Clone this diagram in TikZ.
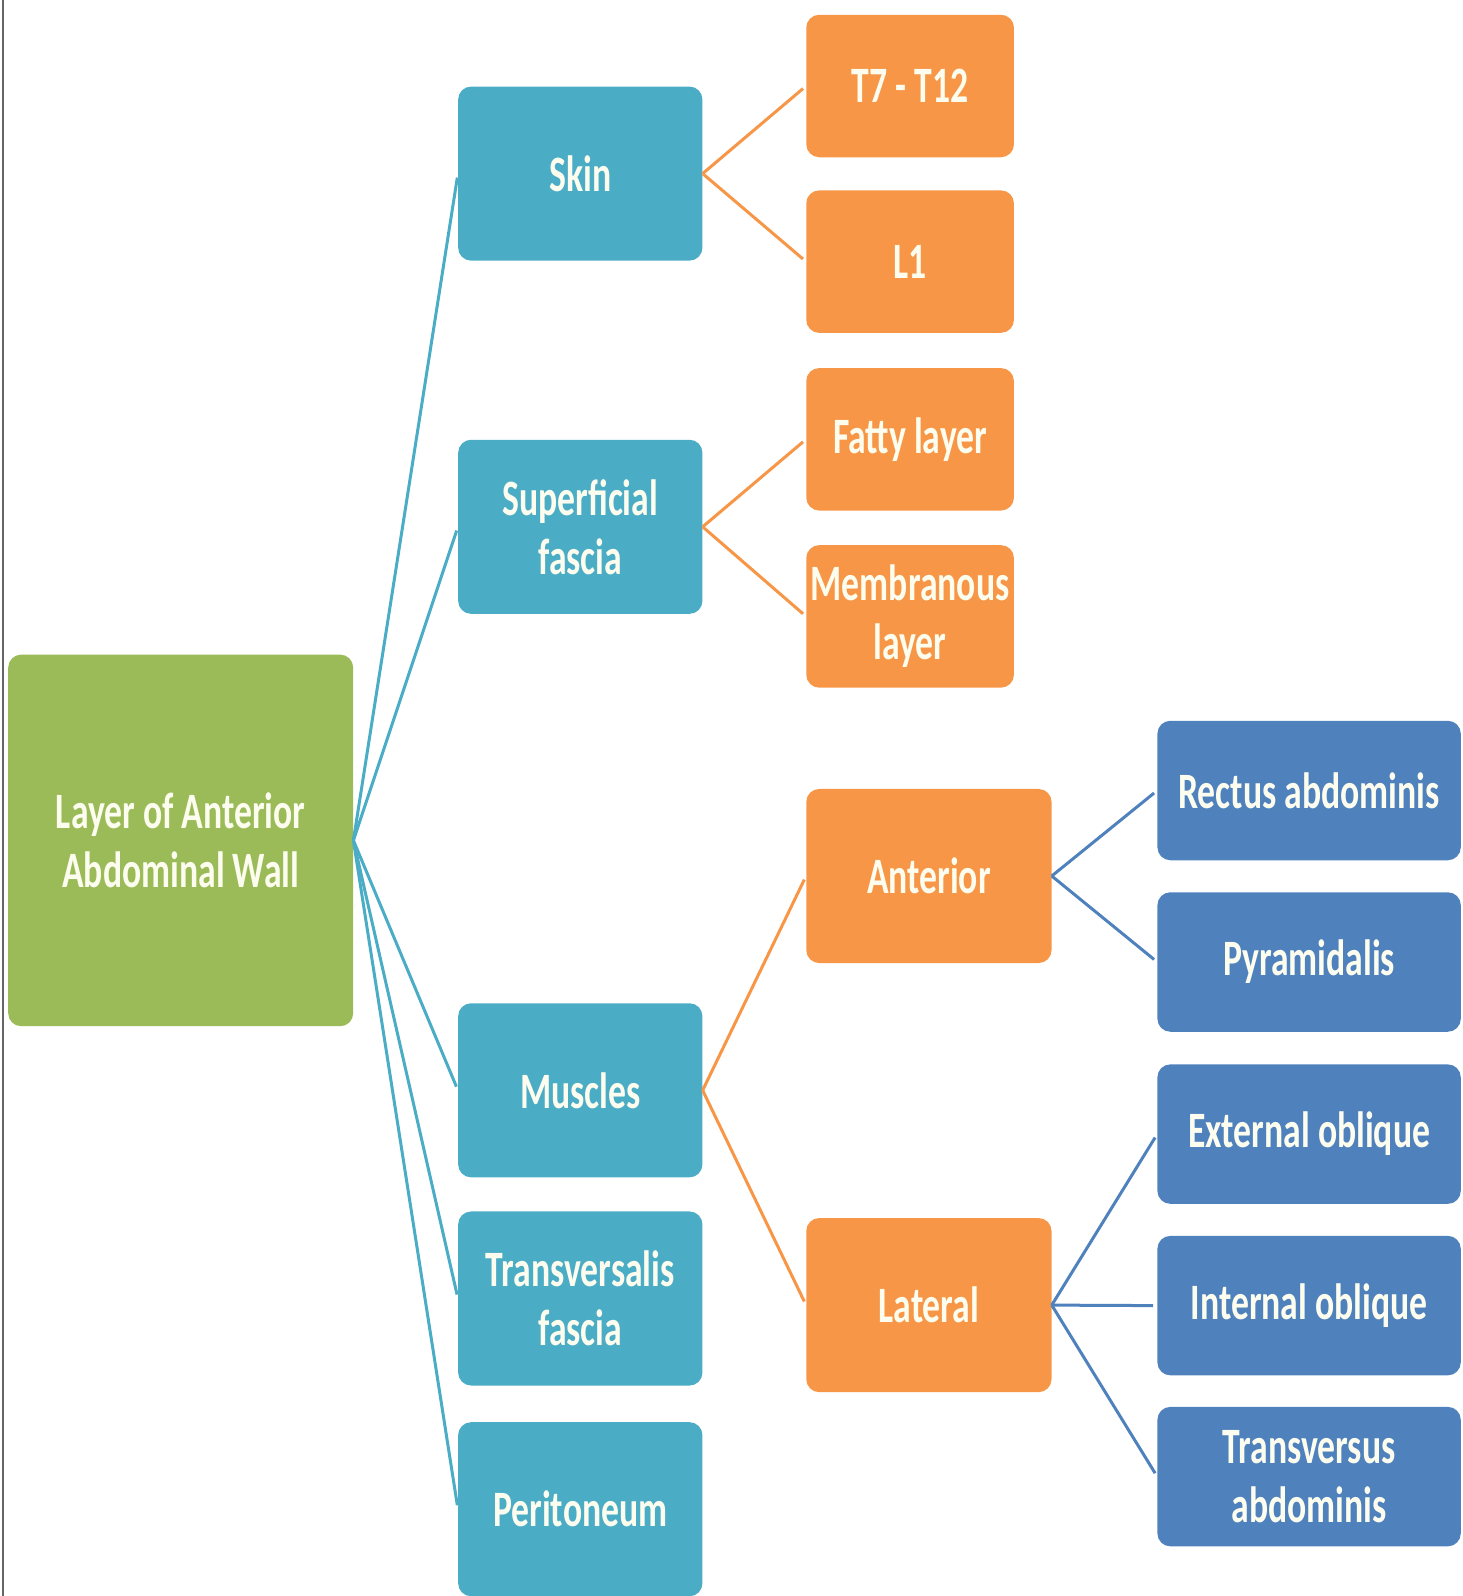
\documentclass[tikz,border=0pt]{standalone}
\usepackage{fontspec}
\setmainfont{Carlito}[FakeStretch=0.70]
\usepackage{xcolor}
\definecolor{root area}{HTML}{9BBB59}
\definecolor{layer area}{HTML}{4BACC6}
\definecolor{part area}{HTML}{F79646}
\definecolor{muscle area}{HTML}{4F81BD}
\definecolor{box text}{HTML}{FCFDEE}
\colorlet{page edge}{black!60}
\tikzset{box/.style={rounded corners=13pt, inner sep=0pt, align=center, text=box text,
        font=\fontsize{51}{59}\selectfont\bfseries},
    rootbox/.style={box, fill=root area, minimum width=345pt, minimum height=371.6pt},
    layerbox/.style={box, fill=layer area, minimum width=244.3pt, minimum height=174.1pt},
    partbox/.style={box, fill=part area, minimum width=207.7pt, minimum height=142.5pt},
    sidebox/.style={box, fill=part area, minimum width=245.3pt, minimum height=174.1pt},
    musclebox/.style={box, fill=muscle area, minimum width=303.4pt, minimum height=139.5pt},
    link/.style={line width=3pt, shorten >=4pt}}

\begin{document}
\begin{tikzpicture}[x=1pt, y=-1pt]
    \useasboundingbox (0,0) rectangle (1463,1596);
    \draw[page edge, line width=2pt] (3,0) -- (3,1596);

    \node[rootbox] (wall) at (180.7,840.4) {Layer of Anterior\\Abdominal Wall};

    \node[layerbox] (skin)    at (580.3,173.6)  {Skin};
    \node[layerbox] (superf)  at (580.3,526.8)  {Superficial\\fascia};
    \node[layerbox] (muscles) at (580.3,1090.3) {Muscles};
    \node[layerbox] (transf)  at (580.3,1298.5) {Transversalis\\fascia};
    \node[layerbox] (perit)   at (580.3,1509.2) {Peritoneum};

    \node[partbox] (thor)   at (910.1,86.0)  {T7 - T12};
    \node[partbox] (lumb)   at (910.1,261.6) {L1};
    \node[partbox] (fatty)  at (910.1,439.3) {Fatty layer};
    \node[partbox] (membr)  at (910.1,616.4) {Membranous\\layer};
    \node[sidebox] (anter)  at (928.9,876.0)  {Anterior};
    \node[sidebox] (later)  at (928.9,1305.1) {Lateral};

    \node[musclebox] (rectus) at (1309.1,790.5)  {Rectus abdominis};
    \node[musclebox] (pyram)  at (1309.1,962.0)  {Pyramidalis};
    \node[musclebox] (extob)  at (1309.1,1134.1) {External oblique};
    \node[musclebox] (intob)  at (1309.1,1305.6) {Internal oblique};
    \node[musclebox] (transv) at (1309.1,1476.6) {Transversus\\abdominis};

    \draw[link, layer area] (wall.east) -- (skin.west);
    \draw[link, layer area] (wall.east) -- (superf.west);
    \draw[link, layer area] (wall.east) -- (muscles.west);
    \draw[link, layer area] (wall.east) -- (transf.west);
    \draw[link, layer area] (wall.east) -- (perit.west);

    \draw[link, part area] (skin.east) -- (thor.west);
    \draw[link, part area] (skin.east) -- (lumb.west);
    \draw[link, part area] (superf.east) -- (fatty.west);
    \draw[link, part area] (superf.east) -- (membr.west);
    \draw[link, part area] (muscles.east) -- (anter.west);
    \draw[link, part area] (muscles.east) -- (later.west);

    \draw[link, muscle area] (anter.east) -- (rectus.west);
    \draw[link, muscle area] (anter.east) -- (pyram.west);
    \draw[link, muscle area] (later.east) -- (extob.west);
    \draw[link, muscle area] (later.east) -- (intob.west);
    \draw[link, muscle area] (later.east) -- (transv.west);
\end{tikzpicture}
\end{document}
